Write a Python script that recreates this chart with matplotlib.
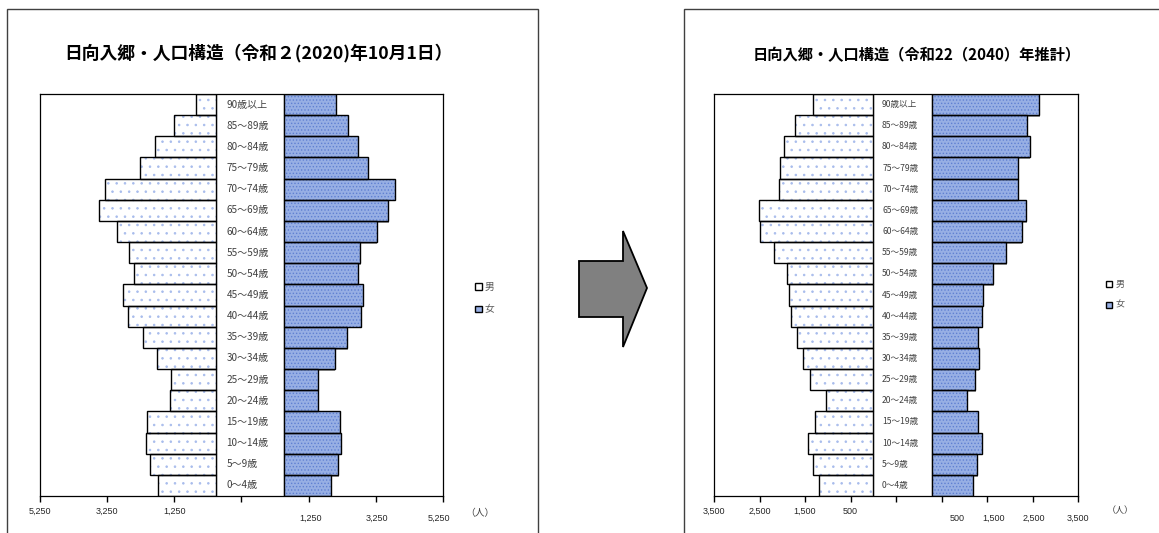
import matplotlib
matplotlib.use('Agg')
import matplotlib.pyplot as plt
from matplotlib.patches import Rectangle, Polygon, Patch

plt.rcParams['font.family'] = ['Noto Sans CJK JP', 'DejaVu Sans']
plt.rcParams['hatch.linewidth'] = 0.6

W, H = 1159, 533

# age groups, bottom to top
ages = ['0～4歳', '5～9歳', '10～14歳', '15～19歳', '20～24歳', '25～29歳',
        '30～34歳', '35～39歳', '40～44歳', '45～49歳', '50～54歳', '55～59歳',
        '60～64歳', '65～69歳', '70～74歳', '75～79歳', '80～84歳', '85～89歳',
        '90歳以上']

male_2020 = [1730, 1965, 2105, 2075, 1365, 1345, 1760, 2185, 2625, 2775,
             2450, 2605, 2945, 3485, 3300, 2260, 1815, 1265, 615]
female_2020 = [1375, 1600, 1690, 1660, 1010, 1010, 1490, 1865, 2290, 2330,
               2195, 2260, 2755, 3090, 3290, 2490, 2200, 1895, 1540]

male_2040 = [1185, 1325, 1445, 1290, 1035, 1385, 1540, 1665, 1815, 1860,
             1890, 2190, 2485, 2515, 2075, 2045, 1970, 1730, 1320]
female_2040 = [900, 990, 1085, 995, 760, 945, 1020, 1010, 1100, 1115,
               1340, 1625, 1970, 2065, 1875, 1890, 2140, 2080, 2350]

title_2020 = '日向入郷・人口構造（令和２(2020)年10月1日）'
title_2040 = '日向入郷・人口構造（令和22（2040）年推計）'

left_labels_2020 = ['5,250', '3,250', '1,250']
right_labels_2020 = ['1,250', '3,250', '5,250']
left_labels_2040 = ['3,500', '2,500', '1,500', '500']
right_labels_2040 = ['500', '1,500', '2,500', '3,500']

MALE_DOT = '#a8bcec'
FEMALE_FACE = '#97afe4'
FEMALE_DOT = '#5f80d2'


def px_box(x0, x1, y0, y1):
    return [x0 / W, 1 - y1 / H, (x1 - x0) / W, (y1 - y0) / H]


def pyramid(ax, male, female, gap, xmin, xmax, step, left_labels,
            right_labels, right_pos, label_fs):
    y = list(range(len(ages)))
    neg = [-v for v in male]
    # men: white with sparse dots
    ax.barh(y, neg, height=1.0, color='white', edgecolor=MALE_DOT,
            hatch='..', linewidth=0)
    ax.barh(y, neg, height=1.0, fill=False, edgecolor='black', linewidth=1)
    # women: blue with dense dots, grey shadow
    ax.barh([v - 0.08 for v in y], female, left=gap + step * 0.006, height=1.0,
            color='#9a9a9a', linewidth=0, zorder=1)
    ax.barh(y, female, left=gap, height=1.0, color=FEMALE_FACE,
            edgecolor=FEMALE_DOT, hatch='.....', linewidth=0, zorder=2)
    ax.barh(y, female, left=gap, height=1.0, fill=False, edgecolor='black',
            linewidth=1, zorder=3)

    ax.axvline(0, color='#8c8c8c', lw=1, zorder=0)
    ax.axvline(gap, color='#8c8c8c', lw=1, zorder=0)

    for i, a in enumerate(ages):
        ax.text(gap * 0.15, i, a, ha='left', va='center', fontsize=label_fs,
                color='#404040')

    ax.set_xlim(xmin, xmax)
    ax.set_ylim(-0.5, len(ages) - 0.5)
    ticks = list(range(xmin, xmax + 1, step))
    ax.set_xticks(ticks)
    ax.set_xticklabels(left_labels + [''] * (len(ticks) - len(left_labels)),
                       fontsize=6.5, family='Liberation Sans', color='#262626')
    ax.set_yticks([])
    ax.tick_params(axis='x', direction='out', length=4, width=1, pad=4)
    for s in ax.spines.values():
        s.set_color('black')
        s.set_linewidth(0.9)
    for x, lab in zip(right_pos, right_labels):
        ax.text(x, -0.045, lab, transform=ax.get_xaxis_transform(),
                ha='center', va='top', fontsize=6.5, family='Liberation Sans',
                color='#262626')


fig = plt.figure(figsize=(W / 100, H / 100), dpi=100)

# outer chart frames
fig.patches.append(Rectangle((7 / W, -0.02), 531 / W, 1 - 9 / H + 0.02,
                             transform=fig.transFigure, fill=False,
                             edgecolor='#404040', lw=1))
fig.patches.append(Rectangle((684 / W, -0.02), 0.5, 1 - 9 / H + 0.02,
                             transform=fig.transFigure, fill=False,
                             edgecolor='#404040', lw=1))

ax1 = fig.add_axes(px_box(40, 443, 94, 496))
pyramid(ax1, male_2020, female_2020, 2030, -5250, 6750, 2000,
        left_labels_2020, right_labels_2020, [2820, 4780, 6620], 7.2)

ax2 = fig.add_axes(px_box(714, 1078, 94, 496))
pyramid(ax2, male_2040, female_2040, 1300, -3500, 4500, 1000,
        left_labels_2040, right_labels_2040, [1840, 2650, 3530, 4500], 6.2)

fig.text(258 / W, 1 - 53 / H, title_2020, ha='center', va='center',
         fontsize=12.8, fontweight='bold')
fig.text(917 / W, 1 - 55 / H, title_2040, ha='center', va='center',
         fontsize=11, fontweight='bold')

# unit labels
fig.text(480 / W, 1 - 513 / H, '（人）', ha='center', va='center',
         fontsize=7, color='#404040')
fig.text(1120 / W, 1 - 511 / H, '（人）', ha='center', va='center',
         fontsize=6.5, color='#404040')

# legends
handles = [Patch(facecolor='white', edgecolor='black', label='男'),
           Patch(facecolor=FEMALE_FACE, edgecolor='black', label='女')]
fig.legend(handles=handles, loc='upper left',
           bbox_to_anchor=(466 / W, 1 - 273 / H), frameon=False,
           handlelength=0.7, handleheight=0.7, handletextpad=0.3,
           labelspacing=1.3, fontsize=7, labelcolor='#595959')
fig.legend(handles=handles, loc='upper left',
           bbox_to_anchor=(1098 / W, 1 - 272 / H), frameon=False,
           handlelength=0.7, handleheight=0.7, handletextpad=0.3,
           labelspacing=1.3, fontsize=6.5, labelcolor='#595959')

# arrow between the two charts
arrow = [(579, 261), (623, 261), (623, 231), (647, 288), (623, 347),
         (623, 317), (579, 317)]
fig.patches.append(Polygon([(x / W, 1 - y / H) for x, y in arrow],
                           closed=True, transform=fig.transFigure,
                           facecolor='#808080', edgecolor='black', lw=1.3))

fig.savefig('out.png', dpi=100)
